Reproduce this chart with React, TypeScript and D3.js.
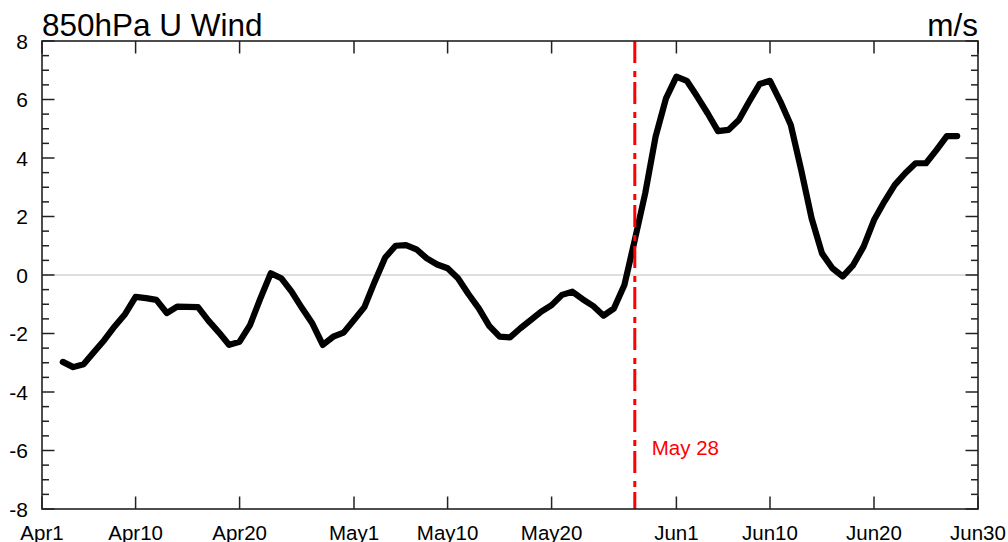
import React from "react";
import * as d3 from "d3";

const startDay = 2; // first plotted day offset from Apr1
const uWind: number[] = [
  -2.97, -3.15, -3.05, -2.63, -2.22, -1.75, -1.33, -0.75, -0.79, -0.85,
  -1.3, -1.08, -1.09, -1.1, -1.56, -1.96, -2.39, -2.28, -1.71, -0.8,
  0.06, -0.11, -0.57, -1.13, -1.66, -2.39, -2.11, -1.97, -1.54, -1.1,
  -0.22, 0.6, 1.0, 1.02, 0.88, 0.57, 0.36, 0.23, -0.11, -0.65,
  -1.14, -1.74, -2.11, -2.13, -1.82, -1.54, -1.25, -1.03, -0.68, -0.57,
  -0.83, -1.06, -1.39, -1.14, -0.34, 1.2, 2.79, 4.73, 6.04, 6.78,
  6.64, 6.1, 5.53, 4.92, 4.96, 5.3, 5.93, 6.53, 6.64, 5.93,
  5.13, 3.59, 1.94, 0.74, 0.23, -0.05, 0.34, 0.97, 1.88, 2.51,
  3.08, 3.48, 3.82, 3.82, 4.27, 4.75, 4.75,
];
const xTickDays = [0, 9, 19, 30, 39, 49, 61, 70, 80, 90];
const xTickLabels = ["Apr1", "Apr10", "Apr20", "May1", "May10", "May20", "Jun1", "Jun10", "Jun20", "Jun30"];
const yMajor = [-8, -6, -4, -2, 0, 2, 4, 6, 8];
const markDay = 57;
const markLabel = "May 28";
const title = "850hPa U Wind";
const units = "m/s";

const W = 1008, H = 542;
const L = 42, R = 978, T = 41, B = 509;
const FONT = "'Liberation Sans', Arial, Helvetica, sans-serif";

export default function App() {
  const x = d3.scaleLinear().domain([0, 90]).range([L, R]);
  const y = d3.scaleLinear().domain([-8, 8]).range([B, T]);
  const yMinor = d3.range(-8, 8.01, 0.5).filter((v) => !yMajor.includes(v));
  const line = d3
    .line<number>()
    .x((_, i) => x(startDay + i))
    .y((d) => y(d));
  const axisColor = "#222";
  return (
    <svg width={W} height={H} style={{ position: "absolute", left: 0, top: 0, background: "#fff" }} fontFamily={FONT}>
      <rect x={0} y={0} width={W} height={H} fill="#fff" />
      {/* zero line */}
      <line x1={L} x2={R} y1={y(0)} y2={y(0)} stroke="#bdbdbd" strokeWidth={1.2} />
      {/* data */}
      <path d={line(uWind) || ""} fill="none" stroke="#000" strokeWidth={6.2} strokeLinejoin="round" strokeLinecap="round" />
      {/* marker line */}
      <line x1={x(markDay)} x2={x(markDay)} y1={T} y2={B} stroke="#ff0000" strokeWidth={3} strokeDasharray="22,8,6,5" />
      <text x={x(markDay) + 17} y={455} fill="#ff0000" fontSize={20.5}>{markLabel}</text>
      {/* frame */}
      <rect x={L} y={T} width={R - L} height={B - T} fill="none" stroke={axisColor} strokeWidth={1.6} />
      {/* y ticks */}
      {yMajor.map((v) => (
        <g key={"ym" + v}>
          <line x1={L} x2={L + 12.5} y1={y(v)} y2={y(v)} stroke={axisColor} strokeWidth={1.5} />
          <line x1={R} x2={R - 12.5} y1={y(v)} y2={y(v)} stroke={axisColor} strokeWidth={1.5} />
          <text x={28} y={y(v)} textAnchor="end" dominantBaseline="central" fontSize={21} fill="#000">{v}</text>
        </g>
      ))}
      {yMinor.map((v) => (
        <g key={"yn" + v}>
          <line x1={L} x2={L + 7} y1={y(v)} y2={y(v)} stroke={axisColor} strokeWidth={1.5} />
          <line x1={R} x2={R - 7} y1={y(v)} y2={y(v)} stroke={axisColor} strokeWidth={1.5} />
        </g>
      ))}
      {/* x ticks */}
      {xTickDays.map((d, i) => (
        <g key={"x" + d}>
          <line x1={x(d)} x2={x(d)} y1={B} y2={B - 12.5} stroke={axisColor} strokeWidth={1.5} />
          <line x1={x(d)} x2={x(d)} y1={T} y2={T + 12.5} stroke={axisColor} strokeWidth={1.5} />
          <text x={x(d)} y={540} textAnchor="middle" fontSize={20.5} fill="#000">{xTickLabels[i]}</text>
        </g>
      ))}
      <text x={L} y={36} fontSize={31.5} fill="#000">{title}</text>
      <text x={R} y={36} textAnchor="end" fontSize={31.5} fill="#000">{units}</text>
    </svg>
  );
}
